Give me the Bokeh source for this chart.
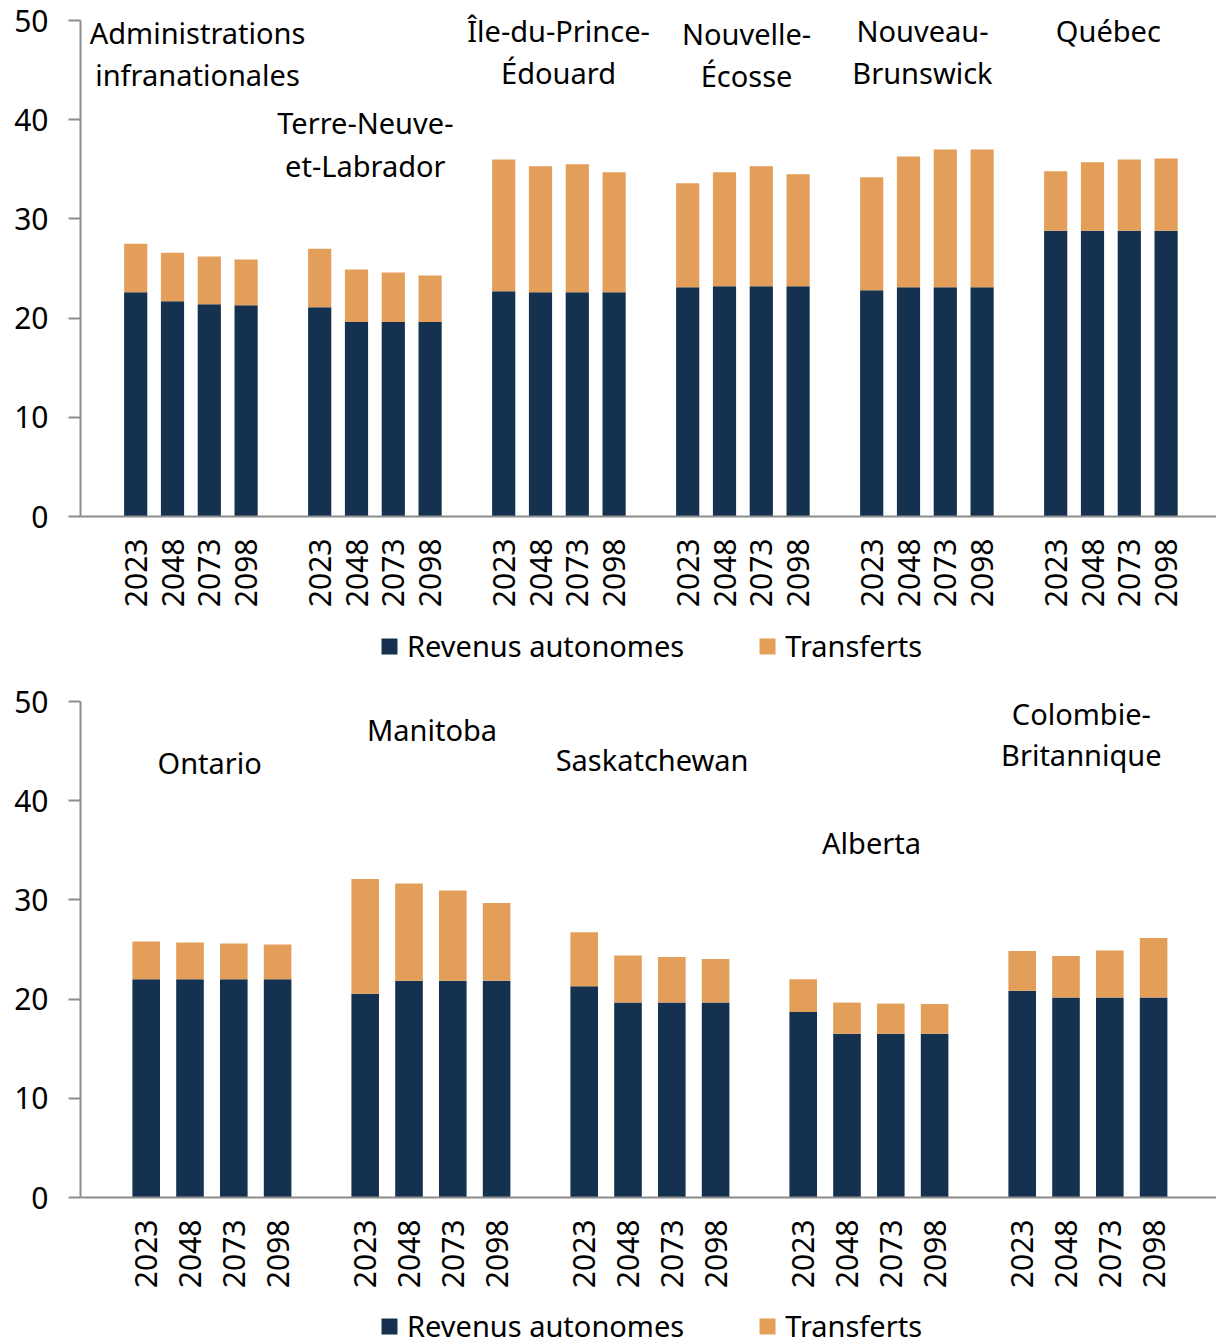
import math
from bokeh.plotting import figure
from bokeh.models import ColumnDataSource, Range1d, FixedTicker, Legend, LegendItem
from bokeh.layouts import column
from bokeh.core.properties import value
from bokeh.embed import file_html
from bokeh.resources import INLINE

# ---------------- data ----------------
years = ["2023", "2048", "2073", "2098"]
series_names = ["Revenus autonomes", "Transferts"]

top_regions = ["Administrations\ninfranationales", "Terre-Neuve-\net-Labrador",
               "Île-du-Prince-\nÉdouard", "Nouvelle-\nÉcosse", "Nouveau-\nBrunswick", "Québec"]
top_own = [
    [22.6, 21.7, 21.4, 21.3],
    [21.1, 19.6, 19.6, 19.6],
    [22.7, 22.6, 22.6, 22.6],
    [23.1, 23.2, 23.2, 23.2],
    [22.8, 23.1, 23.1, 23.1],
    [28.8, 28.8, 28.8, 28.8],
]
top_transfers = [
    [4.9, 4.9, 4.8, 4.6],
    [5.9, 5.3, 5.0, 4.7],
    [13.3, 12.7, 12.9, 12.1],
    [10.5, 11.5, 12.1, 11.3],
    [11.4, 13.2, 13.9, 13.9],
    [6.0, 6.9, 7.2, 7.3],
]

bottom_regions = ["Ontario", "Manitoba", "Saskatchewan", "Alberta", "Colombie-\nBritannique"]
bottom_own = [
    [22.0, 22.0, 22.0, 22.0],
    [20.55, 21.85, 21.85, 21.85],
    [21.3, 19.65, 19.65, 19.65],
    [18.7, 16.5, 16.5, 16.5],
    [20.85, 20.15, 20.15, 20.15],
]
bottom_transfers = [
    [3.8, 3.7, 3.6, 3.5],
    [11.55, 9.8, 9.1, 7.85],
    [5.45, 4.75, 4.6, 4.4],
    [3.3, 3.15, 3.05, 3.0],
    [4.0, 4.2, 4.75, 6.0],
]

y_ticks = [0, 10, 20, 30, 40, 50]

# ---------------- styles / layout ----------------
NAVY = "#14324F"
ORANGE = "#E39E5A"
AXIS_GRAY = "#8C8C8C"
FONT = "Noto Sans"
COLORS = [NAVY, ORANGE]
PX_PER_UNIT = 9.92

# label positions (data units) per group label line: (x, [y of each line])
top_label_pos = [(2.68, [48.84, 44.6]), (7.24, [39.68, 35.35]), (12.49, [49.04, 44.71]),
                 (17.6, [48.64, 44.41]), (22.38, [49.04, 44.71]), (27.43, [49.04])]
bottom_label_pos = [(2.45, [43.9]), (7.525, [47.13]), (12.55, [44.2]),
                    (17.56, [35.75]), (22.35, [48.84, 44.61])]


def make_panel(regions, own, transfers, label_pos, x_end, height, top_pad, bottom_border):
    xs, o, t = [], [], []
    for g in range(len(regions)):
        for j in range(len(years)):
            xs.append(1 + 5 * g + j)
            o.append(own[g][j])
            t.append(transfers[g][j])
    src = ColumnDataSource(dict(x=xs, own=o, tr=t))

    p = figure(width=1216, height=height, output_backend="svg", toolbar_location=None,
               x_range=Range1d(-0.5, x_end),
               y_range=Range1d(0, 50 + top_pad / PX_PER_UNIT),
               min_border_left=80, min_border_right=0,
               min_border_top=0, min_border_bottom=bottom_border)
    p.outline_line_color = None
    p.xgrid.grid_line_color = None
    p.ygrid.grid_line_color = None
    p.background_fill_color = "white"

    p.vbar_stack(["own", "tr"], x="x", width=0.63, color=COLORS,
                 line_color=None, source=src)

    # y axis
    ya = p.yaxis[0]
    ya.ticker = FixedTicker(ticks=y_ticks)
    ya.bounds = (0, 50)
    ya.axis_line_color = AXIS_GRAY
    ya.axis_line_width = 2
    ya.major_tick_line_color = AXIS_GRAY
    ya.major_tick_line_width = 2
    ya.major_tick_out = 12
    ya.major_tick_in = 0
    ya.minor_tick_line_color = None
    ya.major_label_text_font = FONT
    ya.major_label_text_font_size = "30px"
    ya.major_label_text_color = "black"
    ya.major_label_standoff = 20

    # x axis
    xa = p.xaxis[0]
    xa.ticker = FixedTicker(ticks=xs)
    xa.major_label_overrides = {x: years[i % 4] for i, x in enumerate(xs)}
    xa.major_label_orientation = math.pi / 2
    xa.axis_line_color = AXIS_GRAY
    xa.axis_line_width = 2
    xa.major_tick_line_color = None
    xa.minor_tick_line_color = None
    xa.major_label_text_font = FONT
    xa.major_label_text_font_size = "30px"
    xa.major_label_text_color = "black"
    xa.major_label_standoff = 16

    # group labels
    lx, ly, lt = [], [], []
    for name, (x, ys) in zip(regions, label_pos):
        lines = name.split("\n")
        for line, y in zip(lines, ys):
            lx.append(x)
            ly.append(y)
            lt.append(line)
    p.text(x=lx, y=ly, text=lt, text_font=value(FONT), text_font_size="29px",
           text_align="center", text_baseline="middle", text_color="black")
    return p


def make_legend_strip(height, loc):
    lp = figure(width=1216, height=height, output_backend="svg", toolbar_location=None,
                x_range=Range1d(0, 1), y_range=Range1d(0, 1),
                x_axis_type=None, y_axis_type=None, min_border=0)
    lp.outline_line_color = None
    lp.xgrid.grid_line_color = None
    lp.ygrid.grid_line_color = None
    lp.background_fill_color = None
    lp.border_fill_color = None
    # off-screen placeholder renderers that only feed the legend swatches
    rends = [lp.vbar(x=[10], top=[0], width=0.5, color=c, line_color=None) for c in COLORS]
    legend = Legend(items=[LegendItem(label=n, renderers=[r]) for n, r in zip(series_names, rends)],
                    orientation="horizontal", location=loc,
                    padding=0, margin=0, spacing=73, label_standoff=8,
                    glyph_width=20, glyph_height=20,
                    label_text_font=FONT, label_text_font_size="29px",
                    label_text_color="black",
                    border_line_color=None, background_fill_alpha=0)
    lp.add_layout(legend, "center")
    return lp


p1 = make_panel(top_regions, top_own, top_transfers, top_label_pos,
                -0.5 + 1136 / 36.8, 616, 20, 100)
l1 = make_legend_strip(62, (299, 13))
p2 = make_panel(bottom_regions, bottom_own, bottom_transfers, bottom_label_pos,
                -0.5 + 1136 / 43.8, 619, 23, 100)
l2 = make_legend_strip(44, (299, -4))

layout = column(p1, l1, p2, l2, spacing=0)
open("out.html", "w").write(file_html(layout, INLINE))
